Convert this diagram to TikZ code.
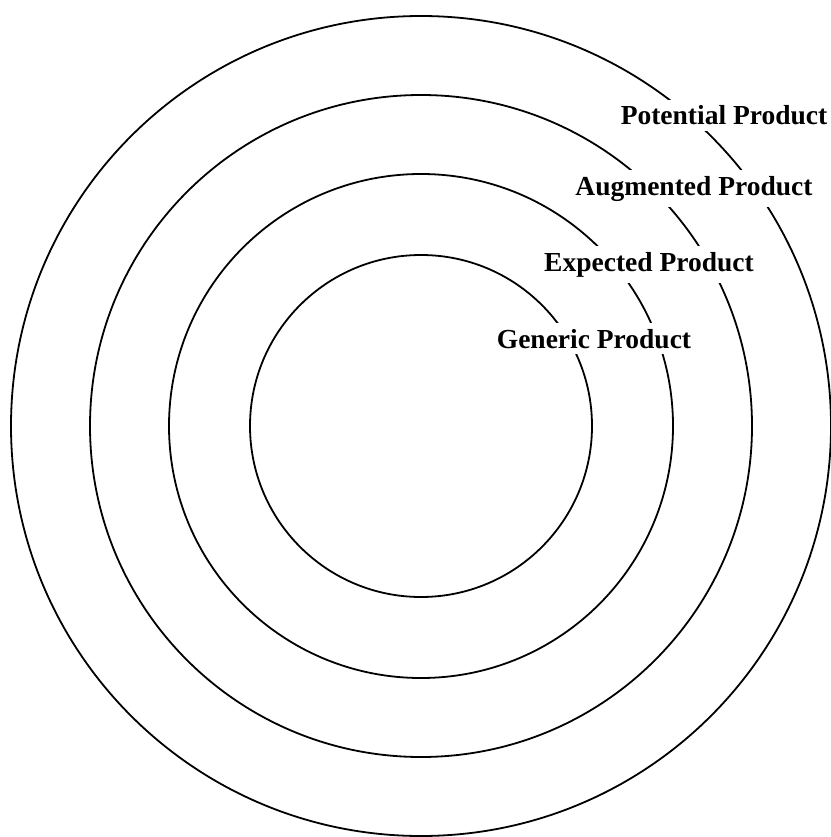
\documentclass[tikz,border=0pt]{standalone}
\usepackage{fontspec}
\setmainfont{Liberation Serif}
\begin{document}
\begin{tikzpicture}[x=1pt,y=-1pt,
  ring/.style={draw=black,line width=1.8pt},
  lbl/.style={fill=white,inner xsep=4pt,inner ysep=6pt,anchor=base,font=\fontsize{27.5}{31}\selectfont\bfseries}]
\useasboundingbox (0,0) rectangle (830,837);
\coordinate (c) at (421,426);
\draw[ring] (c) circle[radius=410];
\draw[ring] (c) circle[radius=331];
\draw[ring] (c) circle[radius=252];
\draw[ring] (c) circle[radius=171];
\node[lbl] (pot) at (724,125) {Potential Product};
\node[lbl] (aug) at (694,195) {Augmented Product};
\node[lbl] (exp) at (649,271) {Expected Product};
\node[lbl] (gen) at (594,348) {Generic Product};
\end{tikzpicture}
\end{document}
